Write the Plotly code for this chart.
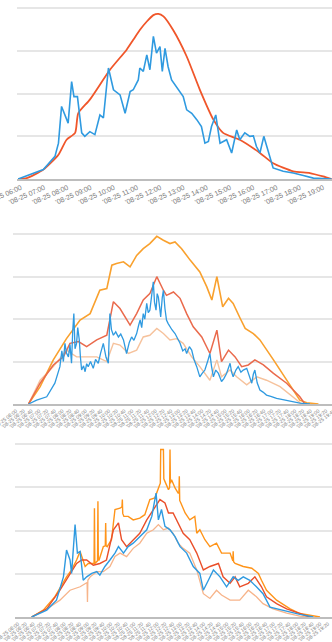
import plotly.graph_objects as go

DAY = "2024-08-25 "

# ---- Panel 1: measured output vs. forecast curve ----
p1_meas_t = ["06:03", "06:34", "07:08", "07:38", "07:47", "07:55", "08:04", "08:12", "08:21", "08:27",
             "08:36", "08:47", "08:55", "09:08", "09:21", "09:34", "09:43", "09:56", "10:09", "10:26",
             "10:39", "10:52", "11:00", "11:13", "11:17", "11:26", "11:35", "11:43", "11:52", "12:00",
             "12:09", "12:15", "12:22", "12:30", "12:39", "12:56", "13:09", "13:18", "13:31", "13:44",
             "13:56", "14:05", "14:14", "14:22", "14:33", "14:44", "15:01", "15:14", "15:27", "15:35",
             "15:48", "16:01", "16:10", "16:18", "16:27", "16:37", "16:49", "17:01", "17:27", "17:53",
             "18:19", "18:45", "19:32"]
p1_meas_v = [0, 10, 22, 53, 84, 170, 150, 131, 228, 193,
             193, 108, 100, 111, 104, 150, 143, 260, 209, 197,
             154, 205, 209, 232, 260, 252, 291, 256, 334, 295,
             310, 252, 306, 263, 232, 209, 193, 162, 154, 139,
             123, 84, 88, 123, 150, 84, 92, 61, 115, 92,
             108, 100, 101, 76, 61, 100, 61, 26, 18, 14,
             8, 2, 0]

p1_fc_t = ["06:03", "06:25", "07:08", "07:47", "08:08", "08:30", "08:38", "09:08", "10:00", "10:43",
           "11:00", "11:17", "11:35", "11:52", "12:05", "12:18", "12:43", "13:18", "13:52", "14:27",
           "14:52", "15:35", "16:27", "17:01", "17:53", "18:36", "19:10", "19:32"]
p1_fc_v = [0, 2, 22, 57, 92, 108, 154, 186, 256, 303,
           326, 349, 369, 384, 387, 381, 349, 287, 209, 139,
           108, 92, 61, 37, 18, 14, 6, 0]

# ---- Panel 2: four series ----
p2_orange_t = ["06:40", "07:10", "07:44", "08:18", "08:53", "09:19", "09:44", "10:02", "10:15", "10:27",
               "10:45", "11:02", "11:19", "11:36", "11:53", "12:11", "12:28", "12:45", "12:58", "13:15",
               "13:37", "14:02", "14:20", "14:33", "14:46", "15:01", "15:16", "15:28", "15:46", "15:59",
               "16:20", "16:37", "17:12", "17:46", "18:20", "18:38", "19:08"]
p2_orange_v = [0, 41, 104, 154, 198, 213, 268, 272, 327, 331,
               335, 323, 350, 366, 378, 395, 386, 378, 382, 366,
               339, 311, 276, 245, 300, 229, 249, 237, 202, 178,
               166, 151, 104, 56, 9, 3, 0]

p2_red_t = ["06:40", "07:10", "07:44", "08:10", "08:27", "08:49", "09:10", "09:36", "10:02", "10:19",
            "10:36", "11:02", "11:19", "11:36", "11:53", "12:11", "12:28", "12:36", "12:54", "13:11",
            "13:28", "13:45", "14:07", "14:28", "14:46", "14:58", "15:16", "15:33", "15:50", "16:07",
            "16:24", "16:46", "17:12", "17:46", "18:20", "18:33"]
p2_red_v = [0, 49, 92, 111, 143, 147, 135, 151, 162, 241,
            225, 186, 213, 245, 260, 300, 268, 256, 264, 249,
            213, 182, 158, 119, 174, 100, 127, 111, 88, 92,
            104, 92, 72, 49, 17, 0]

p2_peach_t = ["06:40", "07:10", "07:44", "08:18", "08:44", "09:10", "09:36", "10:02", "10:19", "10:36",
              "10:58", "11:19", "11:36", "11:53", "12:11", "12:28", "12:45", "13:02", "13:19", "13:41",
              "14:02", "14:28", "14:46", "14:58", "15:20", "15:37", "16:03", "16:29", "16:54", "17:29",
              "18:03", "18:25"]
p2_peach_v = [0, 56, 88, 127, 111, 111, 111, 100, 143, 139,
              119, 127, 158, 162, 178, 166, 151, 154, 143, 111,
              88, 56, 104, 64, 80, 64, 45, 64, 56, 41,
              17, 0]

p2_blue_t = ["06:40", "07:01", "07:27", "07:48", "08:01", "08:06", "08:10", "08:14", "08:18", "08:23",
             "08:27", "08:31", "08:34", "08:37", "08:40", "08:44", "08:47", "08:51", "08:54", "08:57",
             "09:02", "09:06", "09:10", "09:14", "09:20", "09:27", "09:33", "09:40", "09:46", "09:53",
             "10:00", "10:06", "10:10", "10:14", "10:19", "10:25", "10:32", "10:38", "10:45", "10:49",
             "10:53", "11:00", "11:06", "11:12", "11:19", "11:24", "11:28", "11:32", "11:36", "11:40",
             "11:45", "11:49", "11:53", "11:57", "12:02", "12:05", "12:09", "12:12", "12:15", "12:18",
             "12:21", "12:25", "12:28", "12:32", "12:36", "12:40", "12:45", "12:50", "12:58", "13:04",
             "13:11", "13:18", "13:24", "13:28", "13:35", "13:41", "13:47", "13:54", "14:02", "14:08",
             "14:15", "14:22", "14:28", "14:32", "14:37", "14:43", "14:50", "14:58", "15:04", "15:11",
             "15:16", "15:20", "15:24", "15:28", "15:35", "15:41", "15:48", "15:54", "16:03", "16:09",
             "16:16", "16:20", "16:24", "16:30", "16:37", "16:45", "16:54", "17:05", "17:20", "17:33",
             "17:46", "18:03", "18:20", "18:46"]
p2_blue_v = [0, 9, 17, 49, 88, 125, 100, 143, 120, 111,
             140, 96, 170, 213, 130, 143, 180, 151, 110, 80,
             90, 76, 95, 88, 100, 84, 105, 96, 120, 143,
             110, 96, 213, 175, 162, 170, 158, 165, 151, 135,
             119, 145, 158, 150, 166, 185, 198, 180, 213, 200,
             237, 215, 221, 250, 288, 240, 221, 260, 252, 230,
             205, 250, 268, 225, 198, 190, 182, 175, 166, 155,
             143, 125, 130, 119, 135, 127, 105, 88, 64, 72,
             80, 100, 119, 90, 64, 80, 72, 53, 60, 72,
             85, 96, 75, 64, 80, 88, 75, 80, 84, 65,
             49, 70, 80, 50, 33, 28, 21, 18, 13, 11,
             9, 5, 2, 0]

# ---- Panel 3: four series ----
p3_orange_t = ["06:43", "07:13", "07:43", "08:13", "08:26", "08:39", "08:48", "09:01", "09:09", "09:22",
               "09:24", "09:25", "09:26", "09:33", "09:34", "09:35", "09:37", "09:48", "09:53", "09:54",
               "09:55", "09:58", "10:09", "10:18", "10:31", "10:36", "10:37", "10:38", "10:41", "10:52",
               "11:05", "11:22", "11:35", "11:48", "12:01", "12:12", "12:15", "12:16", "12:23", "12:24",
               "12:26", "12:36", "12:39", "12:40", "12:41", "12:44", "12:53", "13:01", "13:03", "13:04",
               "13:05", "13:08", "13:19", "13:31", "13:44", "13:49", "13:57", "14:10", "14:23", "14:40",
               "14:53", "15:15", "15:22", "15:23", "15:24", "15:28", "15:49", "16:11", "16:28", "16:36",
               "16:49", "17:15", "17:50", "18:15", "18:50", "19:07"]
p3_orange_v = [0, 16, 47, 93, 109, 132, 152, 117, 124, 124,
               124, 252, 124, 130, 268, 132, 132, 163, 165, 218,
               165, 163, 179, 249, 252, 255, 272, 240, 233, 233,
               225, 229, 237, 272, 276, 303, 310, 388, 388, 320,
               315, 295, 300, 388, 310, 318, 299, 287, 287, 326,
               270, 264, 241, 225, 233, 194, 202, 179, 163, 171,
               148, 148, 130, 152, 128, 124, 117, 113, 101, 85,
               62, 39, 19, 8, 2, 0]

p3_red_t = ["06:43", "07:22", "07:56", "08:22", "08:39", "08:52", "09:05", "09:22", "09:39", "09:56",
            "10:14", "10:27", "10:35", "10:48", "11:05", "11:22", "11:40", "11:57", "12:14", "12:27",
            "12:36", "12:48", "13:01", "13:14", "13:31", "13:49", "14:06", "14:23", "14:45", "14:57",
            "15:15", "15:28", "15:40", "16:02", "16:19", "16:36", "16:49", "17:15", "17:41", "18:15",
            "18:41"]
p3_red_v = [0, 19, 62, 101, 124, 132, 132, 120, 124, 132,
            202, 218, 179, 163, 179, 194, 225, 249, 272, 264,
            241, 241, 218, 194, 179, 148, 109, 117, 124, 93,
            78, 93, 70, 78, 93, 70, 47, 31, 19, 8,
            0]

p3_peach_t = ["06:43", "07:30", "07:56", "08:22", "08:48", "09:01", "09:06", "09:07", "09:08", "09:14",
              "09:31", "09:48", "10:05", "10:18", "10:31", "10:48", "11:05", "11:22", "11:40", "11:57",
              "12:10", "12:23", "12:36", "12:48", "13:01", "13:14", "13:31", "13:49", "14:06", "14:23",
              "14:40", "14:53", "15:15", "15:40", "16:02", "16:23", "16:40", "17:06", "17:41", "18:15",
              "18:41"]
p3_peach_v = [0, 23, 39, 62, 70, 78, 80, 35, 85, 93,
              105, 105, 117, 140, 148, 140, 159, 171, 194, 202,
              214, 202, 206, 194, 171, 159, 148, 109, 54, 43,
              62, 51, 39, 39, 62, 47, 31, 19, 9, 2,
              0]

p3_blue_t = ["06:43", "07:22", "07:47", "08:05", "08:13", "08:22", "08:26", "08:35", "08:41", "08:48",
             "08:56", "09:05", "09:18", "09:31", "09:39", "09:52", "10:05", "10:18", "10:27", "10:40",
             "10:52", "11:05", "11:22", "11:40", "11:53", "12:04", "12:10", "12:18", "12:27", "12:40",
             "12:53", "13:06", "13:23", "13:40", "13:57", "14:06", "14:19", "14:32", "14:49", "15:06",
             "15:23", "15:36", "15:49", "16:06", "16:23", "16:40", "16:58", "17:24", "17:50", "18:15",
             "18:50"]
p3_blue_v = [0, 16, 39, 93, 155, 132, 101, 214, 148, 152,
             85, 93, 101, 105, 97, 117, 132, 148, 163, 148,
             163, 171, 186, 202, 233, 287, 225, 249, 210, 202,
             186, 163, 148, 117, 101, 62, 85, 109, 93, 70,
             93, 85, 93, 85, 70, 54, 23, 17, 12, 6,
             0]

# Category tick labels
hour_ticks = ["06:00", "07:00", "08:00", "09:00", "10:00", "11:00", "12:00", "13:00",
              "14:00", "15:00", "16:00", "17:00", "18:00", "19:00"]
fine_ticks = ["06:00", "06:20", "06:40", "07:00", "07:20", "07:40", "08:00", "08:20", "08:40",
              "09:00", "09:20", "09:40", "10:00", "10:20", "10:40", "11:00", "11:20", "11:40",
              "12:00", "12:20", "12:40", "13:00", "13:20", "13:40", "14:00", "14:20", "14:40",
              "15:00", "15:20", "15:40", "16:00", "16:20", "16:40", "17:00", "17:20", "17:40",
              "18:00", "18:20", "18:40", "19:00", "19:20", "19:40"]

BLUE = "#2f9ae0"
RED1 = "#f0562a"
ORANGE = "#f9a12e"
RED2 = "#ea6a4c"
PEACH = "#f6c29c"
ORANGE3 = "#ff9419"
RED3 = "#ea4f2a"
PEACH3 = "#f7b48a"


def ts(lst):
    return [DAY + t for t in lst]


fig = go.Figure()

# panel 1
fig.add_trace(go.Scatter(x=ts(p1_fc_t), y=p1_fc_v, mode="lines",
                         line=dict(color=RED1, width=1.8, shape="spline", smoothing=0.6),
                         xaxis="x", yaxis="y"))
fig.add_trace(go.Scatter(x=ts(p1_meas_t), y=p1_meas_v, mode="lines", line=dict(color=BLUE, width=1.6),
                         xaxis="x", yaxis="y"))

# panel 2
fig.add_trace(go.Scatter(x=ts(p2_peach_t), y=p2_peach_v, mode="lines", line=dict(color=PEACH, width=1.4),
                         xaxis="x2", yaxis="y2"))
fig.add_trace(go.Scatter(x=ts(p2_orange_t), y=p2_orange_v, mode="lines", line=dict(color=ORANGE, width=1.6),
                         xaxis="x2", yaxis="y2"))
fig.add_trace(go.Scatter(x=ts(p2_red_t), y=p2_red_v, mode="lines", line=dict(color=RED2, width=1.5),
                         xaxis="x2", yaxis="y2"))
fig.add_trace(go.Scatter(x=ts(p2_blue_t), y=p2_blue_v, mode="lines", line=dict(color=BLUE, width=1.3),
                         xaxis="x2", yaxis="y2"))

# panel 3
fig.add_trace(go.Scatter(x=ts(p3_peach_t), y=p3_peach_v, mode="lines", line=dict(color=PEACH3, width=1.3),
                         xaxis="x3", yaxis="y3"))
fig.add_trace(go.Scatter(x=ts(p3_orange_t), y=p3_orange_v, mode="lines", line=dict(color=ORANGE3, width=1.4),
                         xaxis="x3", yaxis="y3"))
fig.add_trace(go.Scatter(x=ts(p3_red_t), y=p3_red_v, mode="lines", line=dict(color=RED3, width=1.4),
                         xaxis="x3", yaxis="y3"))
fig.add_trace(go.Scatter(x=ts(p3_blue_t), y=p3_blue_v, mode="lines", line=dict(color=BLUE, width=1.4),
                         xaxis="x3", yaxis="y3"))

H = 642.0
W = 332.0


def ydom(top_px, bottom_px):
    return [1 - bottom_px / H, 1 - top_px / H]


def xaxis(left_px, end_time, ticks, size, angle, shift):
    return dict(
        domain=[left_px / W, 1],
        type="date",
        range=[DAY + "06:00", DAY + end_time],
        tickmode="array",
        tickvals=ts(ticks),
        ticktext=["'08-25 " + t for t in ticks],
        tickangle=angle,
        ticklabelshift=shift,
        ticklabeloverflow="allow",
        tickfont=dict(family="Liberation Sans, Arial", size=size, color="#7a7a7a"),
        automargin=False,
        showgrid=False,
        showline=True,
        linecolor="#bdbdbd",
        linewidth=2,
        ticks="",
        zeroline=False,
        fixedrange=True,
    )


def yaxis(top_px, bottom_px, anchor):
    return dict(
        domain=ydom(top_px, bottom_px),
        range=[0, 410],
        dtick=100,
        tick0=0,
        showticklabels=False,
        showgrid=True,
        gridcolor="#e6e6e6",
        gridwidth=1.5,
        zeroline=False,
        automargin=False,
        anchor=anchor,
    )


fig.update_layout(
    width=332,
    height=642,
    margin=dict(l=0, r=0, t=0, b=0, autoexpand=False),
    paper_bgcolor="white",
    plot_bgcolor="white",
    showlegend=False,
    xaxis=dict(xaxis(17, "19:33", hour_ticks, 7, -24, 4), anchor="y"),
    yaxis=yaxis(4, 179, "x"),
    xaxis2=dict(xaxis(13, "19:43", fine_ticks, 5, -38, 3), anchor="y2"),
    yaxis2=yaxis(230, 404, "x2"),
    xaxis3=dict(xaxis(15, "19:38", fine_ticks, 5, -38, 3), anchor="y3"),
    yaxis3=yaxis(440, 617, "x3"),
)

fig.write_html("out.html")
